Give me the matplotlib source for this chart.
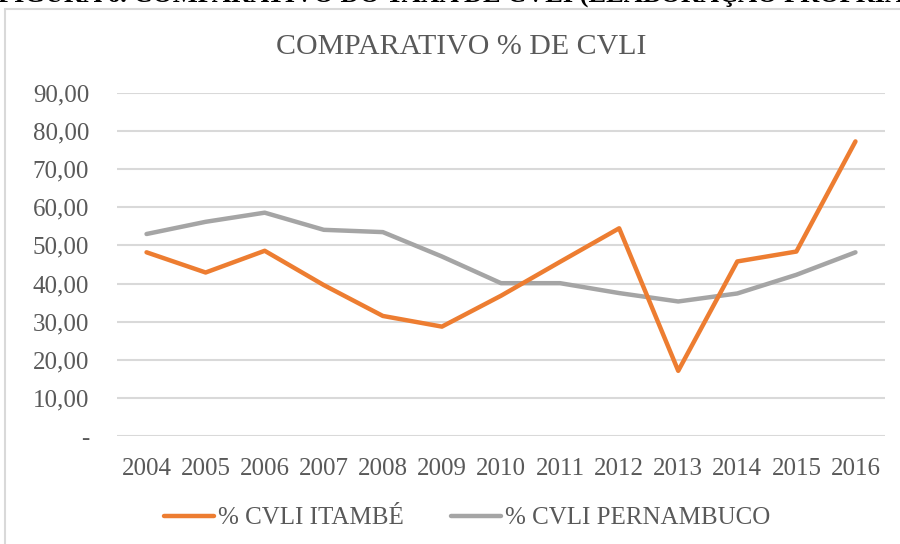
import matplotlib
matplotlib.use("Agg")
import matplotlib.pyplot as plt
from matplotlib.patches import Rectangle
from matplotlib.ticker import FuncFormatter

years = ["2004", "2005", "2006", "2007", "2008", "2009", "2010",
         "2011", "2012", "2013", "2014", "2015", "2016"]
itambe = [48.2, 42.9, 48.6, 39.6, 31.5, 28.7, 36.8, 45.7, 54.5, 17.1, 45.8, 48.4, 77.3]
pernambuco = [53.0, 56.2, 58.6, 54.1, 53.5, 47.1, 40.1, 40.1, 37.5, 35.3, 37.4, 42.3, 48.2]

ORANGE = "#ED7D31"
GRAY = "#A5A5A5"
TXT = "#595959"
GRID = "#D9D9D9"
SERIF = ["Liberation Serif", "DejaVu Serif"]

plt.rcParams["font.family"] = SERIF

fig = plt.figure(figsize=(9, 5.44), dpi=100)
fig.patch.set_facecolor("white")

# chart frame (runs off the right/bottom edges) and the cut caption above it
fig.add_artist(Rectangle((5 / 900, -0.05), 1.2, 1 - 9 / 544 + 0.05, transform=fig.transFigure,
                         fill=False, edgecolor=GRID, lw=1.5))
fig.text(-0.002, 1 - 1.5 / 544, "FIGURA 6. COMPARATIVO DO TAXA DE CVLI (ELABORAÇÃO PRÓPRIA)",
         fontsize=19, weight="bold", color="black", va="baseline", ha="left")

ax = fig.add_axes([117 / 900, 1 - 436 / 544, 768 / 900, 343 / 544])
x = range(len(years))
ax.plot(x, pernambuco, color=GRAY, lw=3.2, solid_capstyle="round", label="% CVLI PERNAMBUCO", zorder=3)
ax.plot(x, itambe, color=ORANGE, lw=3.2, solid_capstyle="round", label="% CVLI ITAMBÉ", zorder=4)

ax.set_xlim(-0.5, len(years) - 0.5)
ax.set_ylim(0, 90)
ax.set_yticks(range(0, 91, 10))
ax.yaxis.set_major_formatter(FuncFormatter(lambda v, p: "-" if v == 0 else f"{v:.2f}".replace(".", ",")))
ax.set_xticks(list(x))
ax.set_xticklabels(years)
ax.grid(axis="y", color=GRID, lw=1.5)
ax.set_axisbelow(True)
for s in ax.spines.values():
    s.set_visible(False)
ax.tick_params(length=0, labelsize=18, colors=TXT)
ax.tick_params(axis="y", pad=20)
ax.tick_params(axis="x", pad=16)
for lab in ax.get_yticklabels():
    lab.set_horizontalalignment("right")

fig.text(461 / 900, 1 - 47 / 544, "COMPARATIVO % DE CVLI", fontsize=21.5, color=TXT,
         ha="center", va="center")

h, l = ax.get_legend_handles_labels()
leg = fig.legend(h[::-1], l[::-1], loc="center", bbox_to_anchor=(467 / 900, 1 - 518 / 544), ncol=2,
                 frameon=False, prop={"family": SERIF, "size": 18},
                 handlelength=2.0, handletextpad=0.15, columnspacing=1.9)
for t in leg.get_texts():
    t.set_fontfamily(SERIF)
    t.set_color(TXT)

fig.savefig("out.png", dpi=100, facecolor="white")
